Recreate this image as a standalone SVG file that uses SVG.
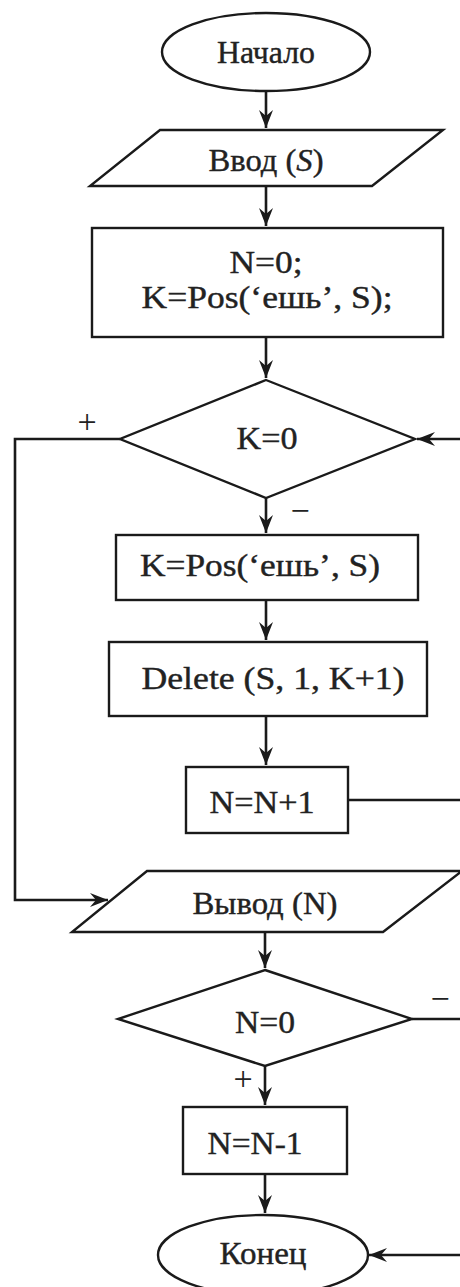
<svg xmlns="http://www.w3.org/2000/svg" width="460" height="1287" viewBox="0 0 460 1287">
<style>
.s{fill:#fff;stroke:#1a1a1a;stroke-width:2.4}
.c{fill:none;stroke:#1a1a1a;stroke-width:2.6}
.t{font-family:"Liberation Serif","Times New Roman",serif;font-size:32px;fill:#222;stroke:#222;stroke-width:0.4;text-anchor:middle}
.l{font-family:"Liberation Serif","Times New Roman",serif;font-size:34px;fill:#222;text-anchor:middle}
</style>
<defs>
<marker id="a" markerUnits="userSpaceOnUse" markerWidth="20" markerHeight="16" refX="18" refY="7" orient="auto">
<path d="M0,0 L18,7 L0,14 L6,7 z" fill="#1a1a1a"/>
</marker>
</defs>
<rect width="460" height="1287" fill="#fff"/>
<g id="connectors">
<path class="c" d="M266,91 V128" marker-end="url(#a)"/>
<path class="c" d="M266,186 V226" marker-end="url(#a)"/>
<path class="c" d="M266,337 V378" marker-end="url(#a)"/>
<path class="c" d="M266,498 V533" marker-end="url(#a)"/>
<path class="c" d="M266,600 V640" marker-end="url(#a)"/>
<path class="c" d="M266,716 V765" marker-end="url(#a)"/>
<path class="c" d="M348,800 H462 V439 H417" marker-end="url(#a)"/>
<path class="c" d="M120,439 H15 V900 H108" marker-end="url(#a)"/>
<path class="c" d="M265,932 V968" marker-end="url(#a)"/>
<path class="c" d="M412,1019 H462 V1255 H369" marker-end="url(#a)"/>
<path class="c" d="M265,1066 V1105" marker-end="url(#a)"/>
<path class="c" d="M265,1174 V1213" marker-end="url(#a)"/>
<text class="l" x="87" y="433">+</text>
<text class="l" x="300" y="522">−</text>
<text class="l" x="440" y="1010">−</text>
<text class="l" x="243" y="1090">+</text>
</g>
<g id="start">
<ellipse class="s" cx="266" cy="52" rx="104" ry="39"/>
<text class="t" x="266" y="63" textLength="98" lengthAdjust="spacingAndGlyphs">Начало</text>
</g>
<g id="input">
<polygon class="s" points="160,130 443,130 372,186 90,186"/>
<text class="t" x="266" y="171" textLength="115" lengthAdjust="spacingAndGlyphs">Ввод (<tspan font-style="italic">S</tspan>)</text>
</g>
<g id="init">
<rect class="s" x="92" y="228" width="351" height="109"/>
<text class="t" x="266" y="273" textLength="73" lengthAdjust="spacingAndGlyphs">N=0;</text>
<text class="t" x="267" y="308" textLength="251" lengthAdjust="spacingAndGlyphs">K=Pos(‘ешь’, S);</text>
</g>
<g id="cond1">
<polygon class="s" points="266,380 415,439 266,498 120,439"/>
<text class="t" x="267" y="449" textLength="61" lengthAdjust="spacingAndGlyphs">K=0</text>
</g>
<g id="pos">
<rect class="s" x="116" y="535" width="302" height="65"/>
<text class="t" x="260" y="576" textLength="240" lengthAdjust="spacingAndGlyphs">K=Pos(‘ешь’, S)</text>
</g>
<g id="delete">
<rect class="s" x="109" y="642" width="318" height="74"/>
<text class="t" x="273" y="689" textLength="263" lengthAdjust="spacingAndGlyphs">Delete (S, 1, K+1)</text>
</g>
<g id="inc">
<rect class="s" x="186" y="767" width="162" height="66"/>
<text class="t" x="262" y="813" textLength="105" lengthAdjust="spacingAndGlyphs">N=N+1</text>
</g>
<g id="output">
<polygon class="s" points="147,871 462,871 383,932 72,932"/>
<text class="t" x="265" y="914" textLength="145" lengthAdjust="spacingAndGlyphs">Вывод (N)</text>
</g>
<g id="cond2">
<polygon class="s" points="265,970 412,1019 265,1066 118,1019"/>
<text class="t" x="265" y="1033" textLength="60" lengthAdjust="spacingAndGlyphs">N=0</text>
</g>
<g id="dec">
<rect class="s" x="183" y="1107" width="164" height="67"/>
<text class="t" x="255" y="1154" textLength="95" lengthAdjust="spacingAndGlyphs">N=N-1</text>
</g>
<g id="end">
<ellipse class="s" cx="263" cy="1255" rx="105" ry="40"/>
<text class="t" x="263" y="1264" textLength="87" lengthAdjust="spacingAndGlyphs">Конец</text>
</g>
</svg>
